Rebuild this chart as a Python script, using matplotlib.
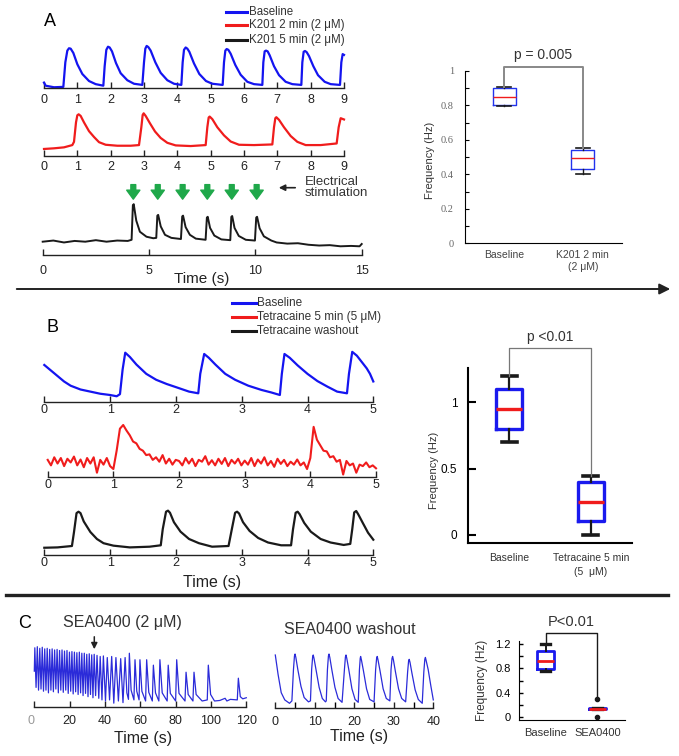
import numpy as np
import matplotlib.pyplot as plt

plt.rcParams['font.family'] = ['Liberation Sans', 'DejaVu Sans']

W, H = 679, 756

# ---------------- data ----------------
# traces: (time s, normalised amplitude) vertices
a_baseline = [(0, 0.08), (0.05, 0.0), (0.3, -0.04), (0.58, -0.03), (0.64, 0.6), (0.7, 0.9), (0.75, 0.96),
              (0.8, 0.95), (0.88, 0.84), (1.0, 0.55), (1.15, 0.3), (1.35, 0.12), (1.55, 0.04), (1.78, 0.0),
              (1.82, 0.5), (1.87, 0.92), (1.92, 1.0), (1.97, 0.98), (2.04, 0.88), (2.16, 0.58), (2.3, 0.32),
              (2.5, 0.14), (2.7, 0.05), (2.95, 0.02), (3.0, 0.6), (3.04, 0.95), (3.08, 1.02), (3.13, 0.99),
              (3.2, 0.9), (3.34, 0.6), (3.5, 0.33), (3.7, 0.14), (3.9, 0.05), (4.12, 0.02), (4.16, 0.6),
              (4.2, 0.92), (4.25, 0.98), (4.3, 0.95), (4.36, 0.87), (4.5, 0.57), (4.66, 0.3), (4.86, 0.12),
              (5.05, 0.05), (5.36, 0.02), (5.4, 0.6), (5.44, 0.9), (5.48, 0.94), (5.53, 0.92), (5.6, 0.82),
              (5.74, 0.53), (5.9, 0.28), (6.1, 0.1), (6.3, 0.04), (6.55, 0.02), (6.58, 0.6), (6.62, 0.88),
              (6.66, 0.9), (6.71, 0.88), (6.77, 0.78), (6.9, 0.5), (7.05, 0.27), (7.25, 0.1), (7.45, 0.04),
              (7.72, 0.02), (7.75, 0.6), (7.79, 0.87), (7.83, 0.89), (7.88, 0.86), (7.95, 0.76), (8.08, 0.5),
              (8.22, 0.27), (8.42, 0.1), (8.6, 0.04), (8.88, 0.02), (8.92, 0.6), (8.96, 0.81), (9.0, 0.79)]
a_k201_2min = [(0, -0.07), (0.3, -0.05), (0.6, -0.02), (0.85, 0.05), (0.9, 0.15), (0.96, 0.75), (1.0, 0.97),
               (1.04, 1.0), (1.1, 0.95), (1.2, 0.75), (1.35, 0.48), (1.5, 0.3), (1.65, 0.14), (1.85, 0.06),
               (2.2, 0.03), (2.6, 0.03), (2.85, 0.05), (2.92, 0.6), (2.96, 0.98), (2.99, 1.03), (3.05, 0.95),
               (3.18, 0.72), (3.33, 0.47), (3.5, 0.27), (3.7, 0.12), (3.95, 0.04), (4.4, 0.02), (4.85, 0.05),
               (4.9, 0.6), (4.94, 0.9), (4.97, 0.93), (5.05, 0.85), (5.2, 0.6), (5.4, 0.35), (5.6, 0.16),
               (5.85, 0.06), (6.3, 0.05), (6.85, 0.07), (6.9, 0.6), (6.94, 0.88), (6.97, 0.91), (7.05, 0.83),
               (7.2, 0.6), (7.4, 0.33), (7.6, 0.15), (7.85, 0.05), (8.3, 0.05), (8.78, 0.1), (8.84, 0.6),
               (8.9, 0.88), (9.0, 0.84)]
a_k201_5min = [(0, 0.0), (0.5, 0.03), (1.0, -0.02), (1.5, 0.02), (2.0, 0.0), (2.5, 0.04), (3.0, 0.0),
               (3.5, 0.03), (4.0, 0.02), (4.18, 0.05), (4.24, 0.95), (4.28, 0.98), (4.4, 0.55), (4.57, 0.26),
               (4.88, 0.13), (5.2, 0.09), (5.34, 0.1), (5.39, 0.68), (5.43, 0.7), (5.55, 0.4), (5.75, 0.18),
               (6.05, 0.1), (6.5, 0.07), (6.56, 0.66), (6.6, 0.68), (6.72, 0.38), (6.92, 0.18), (7.2, 0.08),
               (7.66, 0.05), (7.72, 0.63), (7.76, 0.65), (7.87, 0.36), (8.07, 0.16), (8.4, 0.06), (8.82, 0.04),
               (8.87, 0.65), (8.91, 0.67), (9.02, 0.36), (9.22, 0.15), (9.55, 0.05), (9.98, 0.03),
               (10.04, 0.63), (10.08, 0.65), (10.2, 0.35), (10.4, 0.14), (10.75, 0.03), (11.0, -0.02),
               (11.5, -0.05), (12.0, -0.04), (12.5, -0.08), (13.0, -0.1), (13.5, -0.09), (14.0, -0.12),
               (14.5, -0.11), (14.9, -0.12), (15.0, -0.06)]
a_stim_times = [4.26, 5.41, 6.58, 7.74, 8.89, 10.06]

b_baseline = [(0, 0.71), (0.1, 0.58), (0.2, 0.45), (0.3, 0.32), (0.4, 0.22), (0.55, 0.13), (0.7, 0.08),
              (0.85, 0.03), (1.0, 0.0), (1.1, -0.03), (1.15, 0.02), (1.19, 0.6), (1.23, 1.0), (1.3, 0.9),
              (1.4, 0.72), (1.55, 0.5), (1.7, 0.36), (1.86, 0.26), (2.05, 0.16), (2.2, 0.08), (2.34, 0.04),
              (2.37, 0.5), (2.43, 0.97), (2.5, 0.88), (2.6, 0.72), (2.75, 0.5), (2.9, 0.36), (3.1, 0.22),
              (3.3, 0.12), (3.45, 0.06), (3.58, 0.0), (3.61, 0.5), (3.65, 0.97), (3.73, 0.88), (3.85, 0.7),
              (4.0, 0.5), (4.15, 0.33), (4.3, 0.2), (4.45, 0.08), (4.6, 0.04), (4.63, 0.5), (4.68, 1.02),
              (4.75, 0.93), (4.8, 0.83), (4.9, 0.63), (4.95, 0.5), (5.0, 0.32)]
b_tetra_dt = 0.05
b_tetracaine = [0.05, -0.1, 0.12, -0.05, 0.1, -0.12, 0.08, -0.02, 0.14, -0.1, 0.06, -0.15, 0.1, -0.05, 0.12,
                -0.3, 0.05, -0.08, 0.1, -0.12,
                -0.2, 0.3, 0.9, 1.0, 0.85, 0.72, 0.55, 0.5, 0.35, 0.3, 0.18, 0.2, 0.05, 0.12, 0.0, 0.18, -0.05,
                0.08, -0.08, 0.05,
                0.02, -0.1, 0.1, -0.05, 0.08, -0.12, 0.05, 0.0, 0.15, -0.08, 0.04, -0.1, 0.08, -0.06, 0.1,
                -0.12, 0.05, -0.05, 0.08, -0.1,
                0.03, -0.08, 0.1, -0.12, 0.06, -0.05, 0.12, -0.1, 0.02, -0.14, 0.08, -0.06, 0.05, -0.12, 0.0,
                -0.08, 0.06, -0.1, -0.02, -0.2,
                0.1, 0.95, 0.6, 0.45, 0.3, 0.28, 0.12, 0.15, 0.0, 0.05, -0.35, 0.02, -0.1, -0.05, -0.3, -0.08,
                -0.12, -0.02, -0.15, -0.1, -0.18]
b_washout = [(0, -0.03), (0.2, -0.02), (0.42, 0.02), (0.45, 0.4), (0.49, 0.96), (0.52, 1.0), (0.55, 0.96),
             (0.6, 0.72), (0.7, 0.42), (0.8, 0.22), (0.9, 0.1), (1.05, 0.03), (1.3, -0.02), (1.6, 0.0),
             (1.77, 0.04), (1.8, 0.5), (1.85, 1.0), (1.88, 1.03), (1.91, 0.97), (1.97, 0.7), (2.07, 0.43),
             (2.2, 0.22), (2.35, 0.1), (2.55, 0.0), (2.8, 0.02), (2.85, 0.5), (2.9, 0.97), (2.93, 1.0),
             (2.96, 0.95), (3.02, 0.7), (3.12, 0.45), (3.25, 0.25), (3.4, 0.12), (3.6, 0.04), (3.75, 0.04),
             (3.78, 0.5), (3.82, 0.97), (3.85, 1.0), (3.88, 0.93), (3.95, 0.68), (4.05, 0.43), (4.2, 0.22),
             (4.35, 0.12), (4.55, 0.05), (4.65, 0.08), (4.68, 0.5), (4.71, 0.98), (4.74, 1.02), (4.77, 0.93),
             (4.84, 0.68), (4.92, 0.4), (5.0, 0.2)]

c_sea0400 = [(0, 0.55), (0.3, 0.98), (1.0, 0.25), (1.7, 1.0), (2.4, 0.2), (3.1, 0.97), (3.8, 0.22),
             (4.5, 0.99), (5.2, 0.18), (5.9, 0.96), (6.6, 0.2), (7.3, 0.97), (8.0, 0.15), (8.7, 0.95),
             (9.4, 0.2), (10.1, 0.96), (10.8, 0.17), (11.5, 0.94), (12.2, 0.22), (12.9, 0.95), (13.6, 0.15),
             (14.3, 0.93), (15.0, 0.2), (15.7, 0.94), (16.4, 0.16), (17.1, 0.92), (17.8, 0.2), (18.5, 0.93),
             (19.2, 0.14), (19.9, 0.9), (20.6, 0.18), (21.3, 0.91), (22.0, 0.13), (22.7, 0.9), (23.4, 0.17),
             (24.1, 0.89), (24.8, 0.12), (25.5, 0.9), (26.2, 0.15), (26.9, 0.88), (27.6, 0.1), (28.3, 0.88),
             (29.0, 0.14), (29.7, 0.86), (30.4, 0.08), (31.1, 0.87), (31.8, 0.12), (32.5, 0.85), (33.2, 0.06),
             (33.9, 0.86), (34.7, 0.1), (35.5, 0.84), (36.5, 0.05), (37.3, 0.82), (38.3, 0.02), (39.1, 0.83),
             (40.3, 0.0), (41.3, 0.8), (42.6, 0.02), (43.8, 0.82), (45.0, -0.04), (46.2, 0.8), (47.6, 0.0),
             (48.9, 0.78), (50.2, -0.03), (51.4, 0.8), (52.4, 0.15), (53.3, 0.03), (53.8, 0.88), (54.8, 0.2),
             (56.4, 0.02), (57.0, 0.76), (58.0, 0.18), (59.3, 0.02), (59.8, 0.76), (60.9, 0.18), (63.0, 0.0),
             (63.6, 0.76), (64.8, 0.16), (66.8, 0.0), (67.4, 0.66), (68.6, 0.15), (70.5, 0.0), (71.1, 0.76),
             (72.4, 0.15), (75.2, 0.0), (75.8, 0.66), (77.0, 0.14), (80.0, 0.0), (80.6, 0.76), (81.9, 0.14),
             (85.3, 0.0), (85.9, 0.53), (87.1, 0.12), (89.8, 0.0), (90.4, 0.53), (91.6, 0.12), (95.0, 0.0),
             (97.9, 0.02), (98.5, 0.66), (99.8, 0.12), (102, 0.0), (105, 0.01), (108, 0.05), (109, 0.0),
             (111, 0.03), (114.9, 0.02), (115.5, 0.42), (116.6, 0.08), (118, 0.04), (120, 0.06)]
c_washout = [(0, 1.0), (0.7, 0.6), (1.5, 0.22), (2.4, 0.07), (3.6, 0.0), (4.2, 0.05), (4.6, 0.7), (4.85, 0.98),
             (5.0, 1.02), (5.2, 0.95), (5.7, 0.7), (6.5, 0.35), (7.3, 0.12), (8.4, 0.03), (8.9, 0.05),
             (9.2, 0.7), (9.45, 0.96), (9.6, 1.0), (9.8, 0.93), (10.3, 0.7), (11.1, 0.33), (11.9, 0.1),
             (12.7, 0.03), (12.9, 0.05), (13.2, 0.7), (13.45, 0.98), (13.6, 1.02), (13.8, 0.95), (14.3, 0.7),
             (15.1, 0.33), (15.9, 0.1), (16.9, 0.02), (17.5, 0.7), (17.75, 0.96), (17.9, 1.0), (18.1, 0.93),
             (18.6, 0.7), (19.4, 0.3), (20.2, 0.08), (21.0, 0.02), (21.3, 0.7), (21.5, 0.93), (21.6, 0.97),
             (21.8, 0.9), (22.3, 0.68), (23.1, 0.3), (23.9, 0.08), (25.0, 0.03), (25.4, 0.7), (25.65, 0.93),
             (25.8, 0.97), (26.0, 0.9), (26.5, 0.68), (27.3, 0.3), (28.1, 0.1), (29.0, 0.05), (29.3, 0.7),
             (29.55, 0.93), (29.7, 0.97), (29.9, 0.9), (30.4, 0.66), (31.2, 0.3), (32.0, 0.1), (33.0, 0.03),
             (33.5, 0.65), (33.75, 0.88), (33.9, 0.91), (34.1, 0.85), (34.6, 0.62), (35.4, 0.28), (36.2, 0.08),
             (37.2, 0.0), (37.6, 0.65), (37.85, 0.91), (38.0, 0.95), (38.2, 0.88), (38.7, 0.7), (39.4, 0.35),
             (40.0, 0.07)]

# box plots (frequency, Hz)
a_groups = ['Baseline', 'K201 2 min\n(2 μM)']
a_med = [0.85, 0.495]
a_q1 = [0.80, 0.432]
a_q3 = [0.90, 0.542]
a_lo = [0.795, 0.403]
a_hi = [0.905, 0.556]

b_groups = ['Baseline', 'Tetracaine 5 min\n(5  μM)']
b_med = [0.95, 0.25]
b_q1 = [0.80, 0.105]
b_q3 = [1.10, 0.40]
b_lo = [0.70, 0.0]
b_hi = [1.20, 0.447]

c_groups = ['Baseline', 'SEA0400']
c_med = [0.92, 0.125]
c_q1 = [0.785, 0.12]
c_q3 = [1.09, 0.145]
c_lo = [0.765, 0.12]
c_hi = [1.20, 0.145]
c_fliers = [[], [0.30, 0.0]]

BLUE = '#1414f0'
RED = '#f01c1c'
BLACK = '#1a1a1a'

fig = plt.figure(figsize=(W / 100, H / 100), dpi=100)
over = fig.add_axes([0, 0, 1, 1])
over.set_xlim(0, W)
over.set_ylim(H, 0)
over.axis('off')


def box(x0, y0, x1, y1):
    return [x0 / W, 1 - y1 / H, (x1 - x0) / W, (y1 - y0) / H]


def ftext(x, y, s, **kw):
    kw.setdefault('ha', 'center')
    kw.setdefault('va', 'center')
    over.text(x, y, s, **kw)


def trace_axes(x0, x1, t_max, axis_y, base_y, unit, top_y, ticks, pad, fs=9):
    ax = fig.add_axes(box(x0, top_y, x1, axis_y))
    ax.set_xlim(0, t_max)
    ax.set_ylim((base_y - axis_y) / unit, (base_y - top_y) / unit)
    for s in ['left', 'top', 'right']:
        ax.spines[s].set_visible(False)
    ax.spines['bottom'].set_linewidth(1.0)
    ax.spines['bottom'].set_color('#222')
    ax.patch.set_visible(False)
    ax.set_yticks([])
    ax.set_xticks(ticks)
    ax.tick_params(axis='x', direction='in', length=4, width=1, pad=pad, labelsize=fs,
                   colors='#222')
    return ax


def draw_trace(ax, pts, color, lw=1.6):
    pts = np.asarray(pts, dtype=float)
    ax.plot(pts[:, 0], pts[:, 1], color=color, lw=lw, clip_on=False, solid_joinstyle='round')


def box_axes(x0, x1, top_y, bottom_y, ylim, xlim):
    ax = fig.add_axes(box(x0, top_y, x1, bottom_y))
    ax.set_ylim(*ylim)
    ax.set_xlim(*xlim)
    for s in ['top', 'right']:
        ax.spines[s].set_visible(False)
    ax.patch.set_visible(False)
    return ax


def make_stats(med, q1, q3, lo, hi, fliers=None):
    out = []
    for i in range(len(med)):
        out.append(dict(med=med[i], q1=q1[i], q3=q3[i], whislo=lo[i], whishi=hi[i],
                        fliers=fliers[i] if fliers else []))
    return out


# ---------------- panel A ----------------
ftext(50, 22, 'A', fontsize=13)
for y, c, lab in [(12, BLUE, 'Baseline'), (25, RED, 'K201 2 min (2 μM)'), (40, BLACK, 'K201 5 min (2 μM)')]:
    over.plot([226, 247], [y, y], color=c, lw=2.2)
    ftext(249, y, lab, ha='left', fontsize=8.3, color='#333')

ax = trace_axes(44, 344, 9, 88.3, 85.7, 39, 40, range(10), 4)
draw_trace(ax, a_baseline, BLUE)
ax = trace_axes(44, 344, 9, 155.7, 146.7, 32.4, 105, range(10), 4)
draw_trace(ax, a_k201_2min, RED)
ax = trace_axes(42.7, 361.7, 15, 255, 241.7, 38.3, 200, [0, 5, 10, 15], 7)
draw_trace(ax, a_k201_5min, BLACK, 1.4)
for t in a_stim_times:
    ax.annotate('', xy=(t, 1.11), xytext=(t, 1.49), annotation_clip=False,
                arrowprops=dict(width=3.5, headwidth=9.5, headlength=6.5, color='#1fa84a', shrink=0))
over.annotate('', xy=(276, 187.7), xytext=(298, 187.7),
              arrowprops=dict(arrowstyle='-|>', color='#222', lw=1.2, mutation_scale=9))
ftext(305, 187.5, 'Electrical\nstimulation', ha='left', fontsize=9.5, color='#333', linespacing=0.95)
ftext(202, 279, 'Time (s)', fontsize=11, color='#222')

ax = box_axes(465, 622, 71, 243.3, (0, 1), (0.5, 2.5))
ax.bxp(make_stats(a_med, a_q1, a_q3, a_lo, a_hi), positions=[1, 2], widths=0.29, capwidths=0.18,
       boxprops=dict(color='#2233ee', lw=1.0), medianprops=dict(color=RED, lw=1.0),
       whiskerprops=dict(color=BLACK, lw=1.0), capprops=dict(color=BLACK, lw=1.2))
ax.set_yticks(np.arange(0, 1.01, 0.2))
ax.set_yticklabels(['0', '0.2', '0.4', '0.6', '0.8', '1'], family='Liberation Serif', color='#666')
ax.set_yticks(np.arange(0.1, 1.0, 0.2), minor=True)
ax.tick_params(axis='y', which='both', direction='in', length=3, width=0.8, labelsize=7.5, pad=8)
ax.set_xticks([1, 2])
ax.set_xticklabels(a_groups, fontsize=7.5, color='#444')
ax.tick_params(axis='x', length=0, pad=5)
ax.set_ylabel('Frequency (Hz)', fontsize=8, color='#333')
ax.yaxis.set_label_coords(-0.188, 0.483)
ax.plot([1, 1, 2, 2], [0.91, 1.023, 1.023, 0.556], color='#888', lw=1.4, clip_on=False)
ax.text(1.5, 1.09, 'p = 0.005', ha='center', va='center', fontsize=10, color='#333')

over.annotate('', xy=(673, 289), xytext=(14, 289),
              arrowprops=dict(arrowstyle='-|>', color='#222', lw=1.4, mutation_scale=16))

# ---------------- panel B ----------------
ftext(53, 328, 'B', fontsize=13)
for y, c, lab in [(302.7, BLUE, 'Baseline'), (316.7, RED, 'Tetracaine 5 min (5 μM)'),
                  (331, BLACK, 'Tetracaine washout')]:
    over.plot([232, 256], [y, y], color=c, lw=2.2)
    ftext(257, y, lab, ha='left', fontsize=8.5, color='#333')

ax = trace_axes(44.3, 373.3, 5, 401.7, 395, 42.3, 345, range(6), 1.5)
draw_trace(ax, b_baseline, BLUE)
ax = trace_axes(47.7, 376, 5, 476.7, 461.7, 36.7, 420, range(6), 1.5)
t_tetra = np.arange(len(b_tetracaine)) * b_tetra_dt
ax.plot(t_tetra, b_tetracaine, color=RED, lw=1.5, clip_on=False)
ax = trace_axes(44.3, 373.3, 5, 555, 546.7, 35, 505, range(6), 1.5)
draw_trace(ax, b_washout, BLACK)
ftext(212, 582, 'Time (s)', fontsize=11.5, color='#222')

ax = box_axes(468.3, 631.7, 368.3, 543.3, (-0.063, 1.256), (0.5, 2.5))
ax.bxp(make_stats(b_med, b_q1, b_q3, b_lo, b_hi), positions=[1, 2], widths=0.32, capwidths=0.18,
       boxprops=dict(color='#1a1aee', lw=2.4), medianprops=dict(color=RED, lw=2.4),
       whiskerprops=dict(color=BLACK, lw=1.6), capprops=dict(color=BLACK, lw=2.6))
for s in ['left', 'bottom']:
    ax.spines[s].set_linewidth(1.5)
ax.set_yticks([0, 0.5, 1])
ax.set_yticklabels(['0', '0.5', '1'])
ax.tick_params(axis='y', direction='in', length=6, width=1.5, labelsize=8.5, pad=8)
ax.set_xticks([1, 2])
ax.set_xticklabels(b_groups, fontsize=7.5, color='#333', linespacing=1.5)
ax.tick_params(axis='x', length=0, pad=7)
ax.set_ylabel('Frequency (Hz)', fontsize=8, color='#333')
ax.yaxis.set_label_coords(-0.182, 0.419)
ax.plot([1, 1, 2, 2], [1.2, 1.407, 1.407, 0.447], color='#777', lw=0.9, clip_on=False)
ax.text(1.5, 1.49, 'p <0.01', ha='center', va='center', fontsize=10, color='#333')

over.plot([6, 668], [595, 595], color='#222', lw=2.4)

# ---------------- panel C ----------------
ftext(25, 623, 'C', fontsize=13)
ftext(122, 623, 'SEA0400 (2 μM)', fontsize=11.5, color='#333')
over.annotate('', xy=(94.3, 652), xytext=(94.3, 634),
              arrowprops=dict(arrowstyle='-|>', color='#222', lw=1.1, mutation_scale=9))
ftext(349.5, 630, 'SEA0400 washout', fontsize=11.5, color='#333')

ax = trace_axes(34.3, 246.3, 120, 707.3, 701, 54.3, 640, range(0, 121, 20), 5.5)
draw_trace(ax, c_sea0400, '#2b2bd9', 0.9)
lab0 = ax.get_xticklabels()[0]
lab0.set_color('#999')
lab0.set_horizontalalignment('right')
ftext(143, 739, 'Time (s)', fontsize=11.5, color='#222')

ax = trace_axes(275.3, 433.3, 40, 708.3, 703.3, 48.3, 645, range(0, 41, 10), 5.5)
ax.set_xticks(range(5, 40, 10), minor=True)
ax.tick_params(axis='x', which='minor', direction='in', length=4, width=1)
draw_trace(ax, c_washout, '#2b2bd9', 0.9)
ftext(359, 736, 'Time (s)', fontsize=11.5, color='#222')

ax = box_axes(519, 625, 640.7, 720, (-0.055, 1.26), (0.49, 2.53))
ax.bxp(make_stats(c_med, c_q1, c_q3, c_lo, c_hi, c_fliers), positions=[1, 2], widths=0.34,
       capwidths=0.16, showfliers=True,
       boxprops=dict(color='#1a1aee', lw=2.0), medianprops=dict(color=RED, lw=2.0),
       whiskerprops=dict(color=BLACK, lw=1.4), capprops=dict(color=BLACK, lw=2.4),
       flierprops=dict(marker='o', markersize=3, markerfacecolor=BLACK, markeredgecolor=BLACK))
ax.set_yticks([0, 0.4, 0.8, 1.2])
ax.set_yticklabels(['0', '0.4', '0.8', '1.2'])
ax.set_yticks([0.2, 0.6, 1.0], minor=True)
ax.tick_params(axis='y', which='both', direction='in', length=3, width=1, labelsize=8, pad=6)
ax.set_xticks([1, 2])
ax.set_xticklabels(c_groups, fontsize=8, color='#333')
ax.tick_params(axis='x', length=0, pad=6)
ax.set_ylabel('Frequency (Hz)', fontsize=8.5, color='#333')
ax.yaxis.set_label_coords(-0.297, 0.504)
ax.plot([1, 1, 2, 2], [1.2, 1.39, 1.39, 0.33], color=BLACK, lw=1.0, clip_on=False)
ax.text(1.5, 1.57, 'P<0.01', ha='center', va='center', fontsize=10.5, color='#333')

fig.savefig('out.png', dpi=100)
